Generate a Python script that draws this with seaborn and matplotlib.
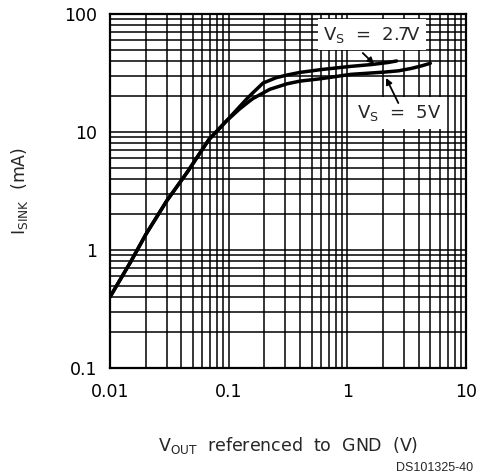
import numpy as np
import pandas as pd
import matplotlib
matplotlib.use("Agg")
import matplotlib.pyplot as plt
from matplotlib.ticker import LogLocator, FixedLocator, FixedFormatter, NullFormatter
import seaborn as sns

# sink current vs output voltage
vout_27 = [0.01, 0.015, 0.02, 0.03, 0.045, 0.068, 0.095, 0.123, 0.145, 0.16, 0.195, 0.25,
           0.31, 0.4, 0.6, 1.07, 1.6, 2.2, 2.6]
isink_27 = [0.40, 0.80, 1.35, 2.6, 4.6, 8.6, 12.3, 16.3, 19.5, 21.5, 26.0, 28.8,
            30.4, 32.0, 33.8, 36.0, 37.3, 38.8, 40.0]

vout_5 = [0.01, 0.015, 0.02, 0.03, 0.045, 0.068, 0.095, 0.123, 0.145, 0.16, 0.222, 0.31,
          0.4, 0.6, 1.07, 2.06, 2.7, 3.47, 4.2, 5.0]
isink_5 = [0.40, 0.80, 1.35, 2.6, 4.6, 8.6, 12.3, 15.6, 17.8, 19.2, 23.0, 25.6,
           27.0, 28.3, 30.8, 32.2, 33.0, 34.6, 36.3, 38.2]

x_ticks = [0.01, 0.1, 1, 10]
x_labels = ["0.01", "0.1", "1", "10"]
y_ticks = [0.1, 1, 10, 100]
y_labels = ["0.1", "1", "10", "100"]

df = pd.concat([
    pd.DataFrame({"vout": vout_27, "isink": isink_27, "supply": "2.7V"}),
    pd.DataFrame({"vout": vout_5, "isink": isink_5, "supply": "5V"}),
])

sns.set_style("white")
plt.rcParams["font.family"] = ["DejaVu Sans"]
plt.rcParams["mathtext.fontset"] = "dejavusans"

fig = plt.figure(figsize=(4.79, 4.75), dpi=100)
ax = fig.add_axes([110 / 479, 1 - 368 / 475, 356 / 479, 354 / 475])

sns.lineplot(data=df, x="vout", y="isink", hue="supply", palette=["black", "black"],
             legend=False, linewidth=2.5, sort=False, estimator=None, ax=ax, zorder=3)
for ln in ax.lines:
    ln.set_solid_joinstyle("round")
    ln.set_solid_capstyle("round")

ax.set_xscale("log")
ax.set_yscale("log")
ax.set_xlim(0.01, 10)
ax.set_ylim(0.1, 100)

# full log grid, every minor line drawn as heavy as the majors
for axis in (ax.xaxis, ax.yaxis):
    axis.set_minor_locator(LogLocator(base=10, subs=np.arange(2, 10)))
    axis.set_minor_formatter(NullFormatter())
ax.xaxis.set_major_locator(FixedLocator(x_ticks))
ax.xaxis.set_major_formatter(FixedFormatter(x_labels))
ax.yaxis.set_major_locator(FixedLocator(y_ticks))
ax.yaxis.set_major_formatter(FixedFormatter(y_labels))
ax.grid(True, which="both", color="black", linewidth=1.1)
ax.tick_params(which="both", length=0, labelsize=12.5, colors="black")
ax.tick_params(axis="x", pad=11)
ax.tick_params(axis="y", pad=9)
for sp in ax.spines.values():
    sp.set_color("black")
    sp.set_linewidth(1.6)

ax.set_xlabel(r"V$_{\mathregular{OUT}}$  referenced  to  GND  (V)", fontsize=12.5)
ax.set_ylabel(r"I$_{\mathregular{SINK}}$  (mA)", fontsize=12.5)
ax.xaxis.set_label_coords(0.5, -0.19)
ax.yaxis.set_label_coords(-0.225, 0.5)

# curve labels with arrows
box = dict(facecolor="white", edgecolor="none", pad=4)
arrow = dict(arrowstyle="-|>", color="black", lw=1.3, mutation_scale=9, shrinkA=0, shrinkB=0)
ax.text(1.61, 67, r"V$_{\mathregular{S}}$  =  2.7V", fontsize=13, ha="center", va="center",
        bbox=box, zorder=4)
ax.annotate("", xy=(1.68, 37.7), xytext=(1.35, 46.7), arrowprops=arrow, zorder=5)
ax.text(2.74, 14.5, r"V$_{\mathregular{S}}$  =  5V", fontsize=13, ha="center", va="center",
        bbox=box, zorder=4)
ax.annotate("", xy=(2.12, 28.7), xytext=(2.69, 17.6), arrowprops=arrow, zorder=5)

fig.text(0.987, 0.0147, "DS101325-40", fontsize=9, family="Liberation Sans",
         ha="right", va="center")

fig.savefig("out.png", dpi=100)
